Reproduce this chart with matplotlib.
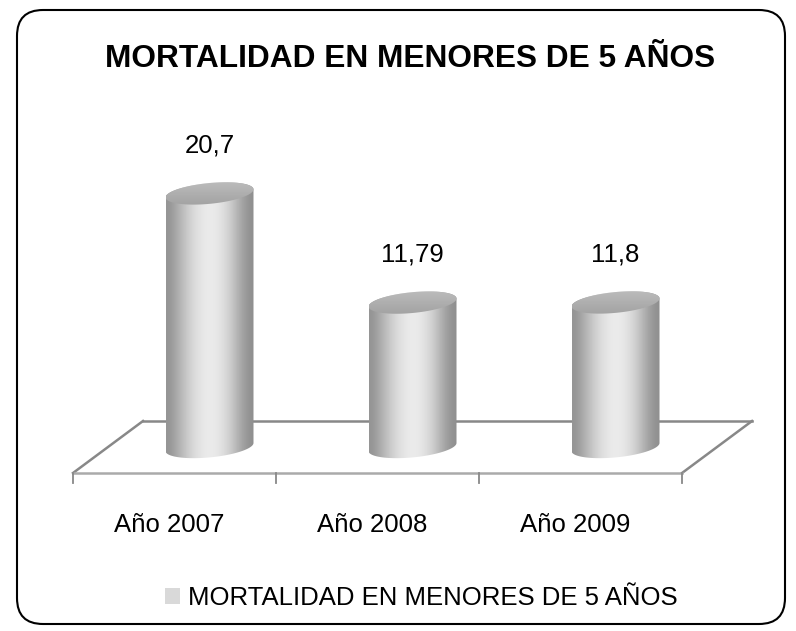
import numpy as np
import matplotlib
matplotlib.use('Agg')
import matplotlib.pyplot as plt
from matplotlib import font_manager
from matplotlib.patches import Polygon, FancyBboxPatch, Patch
from matplotlib.transforms import IdentityTransform

# narrow font if present, otherwise Liberation Sans a bit smaller
names = {f.name for f in font_manager.fontManager.ttflist}
if 'Liberation Sans Narrow' in names:
    plt.rcParams['font.family'] = ['Liberation Sans Narrow', 'DejaVu Sans']
    fs, fs_title = 21.6, 26
else:
    plt.rcParams['font.family'] = ['Liberation Sans', 'DejaVu Sans']
    fs, fs_title = 18.5, 22.8

title = 'MORTALIDAD EN MENORES DE 5 AÑOS'
categories = ['Año 2007', 'Año 2008', 'Año 2009']
values = [20.7, 11.79, 11.8]
value_labels = ['20,7', '11,79', '11,8']
series_name = 'MORTALIDAD EN MENORES DE 5 AÑOS'

fig = plt.figure(figsize=(7.96, 6.31), dpi=100)
ax = fig.add_axes([0, 0, 1, 1])
ax.set_xlim(-1.032, 2.889)
ax.set_ylim(-15.02, 36.49)
ax.axis('off')

# pseudo 3d geometry (data units)
dx, dy = 0.1724, 2.122     # half depth offset
a, b, tilt = 0.2167, 0.85, 0.33
n = len(categories)
x = np.arange(n)

# floor
fl = [(-0.5 - dx, -dy), (n - 0.5 - dx, -dy), (n - 0.5 + dx, dy), (-0.5 + dx, dy)]
ax.add_patch(Polygon(fl, closed=True, facecolor='white', edgecolor='none', zorder=1))
ax.plot([fl[3][0], fl[2][0]], [dy, dy], color='#888888', lw=1.8, zorder=2)
ax.plot([fl[0][0], fl[3][0]], [-dy, dy], color='#888888', lw=1.8, zorder=2)
ax.plot([fl[1][0], fl[2][0]], [-dy, dy], color='#888888', lw=1.8, zorder=2)
ax.plot([fl[0][0], fl[1][0]], [-dy, -dy], color='#aaaaaa', lw=1.8, zorder=2)
for bx in np.arange(n + 1) - 0.5 - dx:
    ax.plot([bx, bx], [-dy, -dy - 0.82], color='#888888', lw=1.3, zorder=2)

# cylinders
grad = np.array([0.58, 0.64, 0.71, 0.78, 0.84, 0.88, 0.91, 0.92, 0.91, 0.88,
                 0.83, 0.76, 0.68, 0.61, 0.56])
t = np.linspace(0, 2 * np.pi, 200)
tt = np.linspace(0, np.pi, 100)
for xi, v in zip(x, values):
    bx = xi - a * np.cos(tt)
    by = -b * np.sin(tt) - tilt * np.cos(tt)
    body = np.column_stack([np.r_[bx, xi + a * np.cos(tt)],
                            np.r_[by, v + b * np.sin(tt) + tilt * np.cos(tt)]])
    poly = Polygon(body, closed=True, facecolor='none', edgecolor='none')
    ax.add_patch(poly)
    im = ax.imshow(grad[None, :], cmap='gray', vmin=0, vmax=1, aspect='auto',
                   interpolation='bicubic',
                   extent=[xi - a, xi + a, -b - tilt, v + b + tilt], zorder=3)
    im.set_clip_path(poly)
    topc = np.column_stack([xi + a * np.cos(t), v + b * np.sin(t) + tilt * np.cos(t)])
    tp = Polygon(topc, closed=True, facecolor='none', edgecolor='none')
    ax.add_patch(tp)
    tgrad = np.linspace(0.74, 0.63, 12)[:, None] * np.ones((1, 12))
    im2 = ax.imshow(tgrad, cmap='gray', vmin=0, vmax=1, aspect='auto',
                    interpolation='bicubic',
                    extent=[xi - a, xi + a, v - b - tilt, v + b + tilt], zorder=4)
    im2.set_clip_path(tp)

for xi, v, lab in zip(x, values, value_labels):
    ax.text(xi, v + 3.9, lab, ha='center', va='center', fontsize=fs, zorder=5)

for xi, c in zip(x, categories):
    ax.text(xi - 0.2, -6.94, c, ha='center', va='baseline', fontsize=fs)

fig.text(410 / 796, 1 - 67 / 631, title, ha='center', va='baseline',
         fontsize=fs_title, fontweight='bold')

fig.legend(handles=[Patch(facecolor='#d9d9d9', edgecolor='none', label=series_name)],
           loc='center', bbox_to_anchor=(421 / 796, 1 - 598 / 631), frameon=False,
           fontsize=fs, handlelength=0.6, handleheight=0.6, handletextpad=0.3)

border = FancyBboxPatch((17, 7), 768, 614, boxstyle='round,pad=0,rounding_size=26',
                        transform=IdentityTransform(), facecolor='none',
                        edgecolor='black', lw=1.5)
fig.patches.append(border)

fig.savefig('out.png', dpi=100)
